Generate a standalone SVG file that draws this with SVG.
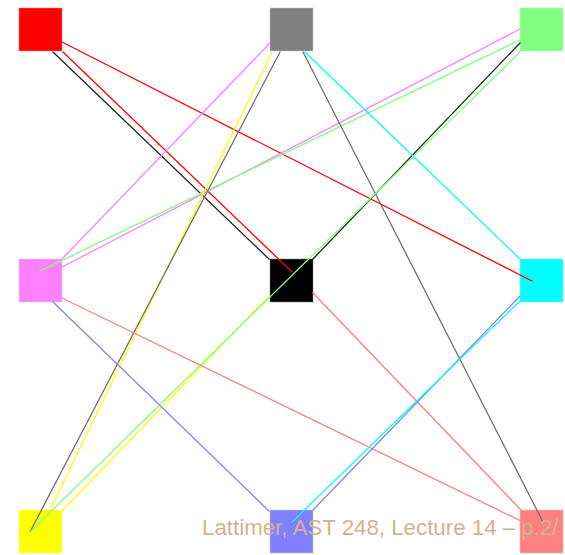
<svg xmlns="http://www.w3.org/2000/svg" width="565" height="555" viewBox="0 0 565 555">
<style>
.n{stroke-width:1;stroke-opacity:0.5}
.e{fill:none;stroke-width:1.3;stroke-linecap:round}
.lbl{font-family:"Liberation Sans",Arial,sans-serif;font-size:22.3px;fill:#d2b48c}
</style>
<rect width="565" height="555" fill="#ffffff"/>
<g id="nodes">
<g id="node-red"><rect class="n" x="19" y="8" width="43" height="43" fill="#ff0000" stroke="#ff8080"/></g>
<g id="node-gray"><rect class="n" x="270" y="8" width="43" height="43" fill="#808080" stroke="#c0c0c0"/></g>
<g id="node-green"><rect class="n" x="520" y="8" width="43" height="43" fill="#80ff80" stroke="#c0ffc0"/></g>
<g id="node-magenta"><rect class="n" x="19" y="259" width="43" height="43" fill="#ff80ff" stroke="#ffc0ff"/></g>
<g id="node-black"><rect class="n" x="270" y="259" width="43" height="43" fill="#000000" stroke="#808080"/></g>
<g id="node-cyan"><rect class="n" x="520" y="259" width="43" height="43" fill="#00ffff" stroke="#80ffff"/></g>
<g id="node-yellow"><rect class="n" x="19" y="510" width="43" height="43" fill="#ffff00" stroke="#ffff80"/></g>
<g id="node-blue"><rect class="n" x="270" y="510" width="43" height="43" fill="#8080ff" stroke="#c0c0ff"/></g>
<g id="node-salmon"><rect class="n" x="520" y="510" width="43" height="43" fill="#ff8080" stroke="#ffc0c0"/></g>
</g>
<g id="connectors">
<line class="e" x1="62" y1="42" x2="532" y2="281" stroke="#ff0000"/>
<line class="e" x1="63" y1="52" x2="292" y2="272" stroke="#ff0000"/>
<line class="e" x1="53" y1="52" x2="269" y2="259" stroke="#222222"/>
<line class="e" x1="313" y1="259" x2="520" y2="43" stroke="#222222"/>
<line class="e" x1="270" y1="43" x2="62" y2="259" stroke="#ff80ff"/>
<line class="e" x1="62" y1="267" x2="520" y2="29" stroke="#ff80ff"/>
<line class="e" x1="520" y1="40" x2="40" y2="271" stroke="#80ff80"/>
<line class="e" x1="272" y1="52" x2="50" y2="510" stroke="#ffff00"/>
<line class="e" x1="280" y1="52" x2="30" y2="532" stroke="#707070"/>
<line class="e" x1="303" y1="52" x2="543" y2="522" stroke="#707070"/>
<line class="e" x1="305" y1="52" x2="520" y2="259" stroke="#00ffff"/>
<line class="e" x1="269" y1="296" x2="63" y2="510" stroke="#ffff00"/>
<line class="e" x1="520" y1="52" x2="30" y2="532" stroke="#80ff80"/>
<line class="e" x1="62" y1="298" x2="521" y2="521" stroke="#ff8080"/>
<line class="e" x1="53" y1="302" x2="269" y2="511" stroke="#8080ff"/>
<line class="e" x1="313" y1="293" x2="521" y2="510" stroke="#ff8080"/>
<line class="e" x1="313" y1="510" x2="520" y2="296" stroke="#8080ff"/>
<line class="e" x1="292" y1="522" x2="522" y2="299" stroke="#00ffff"/>
</g>
<text class="lbl" x="202" y="535">Lattimer, AST 248, Lecture 14 – p.2/</text>
</svg>
